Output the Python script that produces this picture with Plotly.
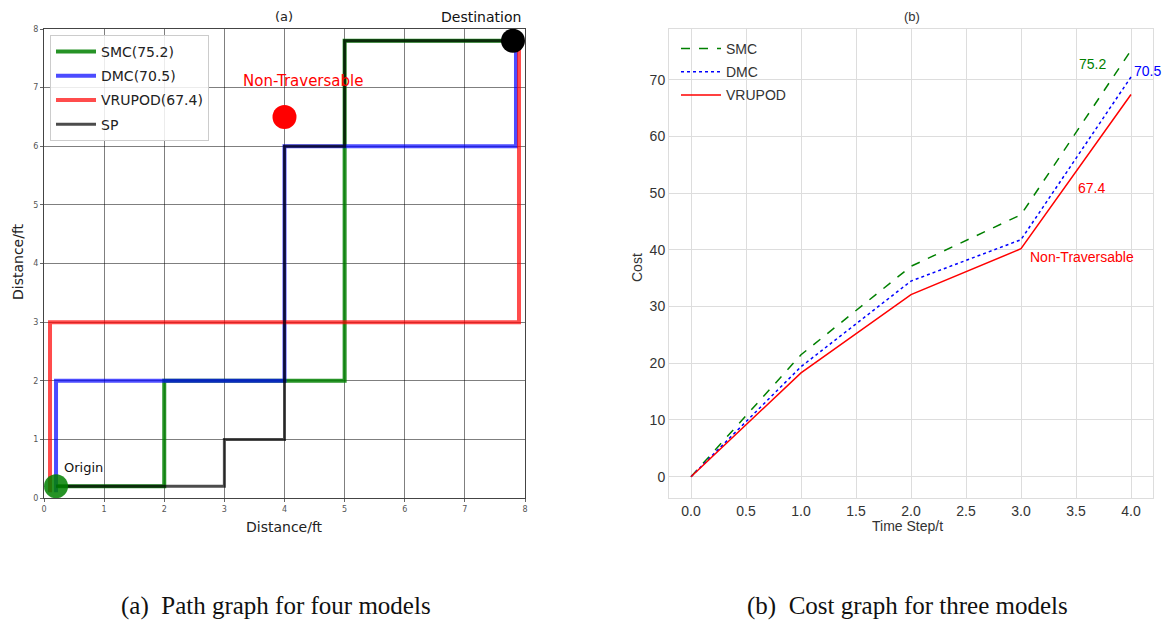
import plotly.graph_objects as go

# ---------------- Data: panel (a) paths ----------------
smc_x = [0.2, 2, 2, 5, 5, 7.8]
smc_y = [0.2, 0.2, 2, 2, 7.8, 7.8]
dmc_x = [0.2, 0.2, 4, 4, 7.85, 7.85]
dmc_y = [0.1, 2, 2, 6, 6, 7.85]
vru_x = [0.1, 0.1, 7.9, 7.9]
vru_y = [0.1, 3, 3, 7.95]
sp_x = [0.2, 3, 3, 4, 4, 5, 5, 7.8]
sp_y = [0.2, 0.2, 1, 1, 6, 6, 7.8, 7.8]
origin_pt = (0.2, 0.2)
dest_pt = (7.8, 7.8)
obstacle_pt = (4.0, 6.5)
path_names = ["SMC(75.2)", "DMC(70.5)", "VRUPOD(67.4)", "SP"]
path_ticks = [0, 1, 2, 3, 4, 5, 6, 7, 8]

# ---------------- Data: panel (b) costs ----------------
time_steps = [0, 1, 2, 3, 4]
smc_cost = [0, 21.5, 37.1, 46.2, 75.2]
dmc_cost = [0, 19.4, 34.5, 41.8, 70.5]
vru_cost = [0, 18.3, 32.1, 40.2, 67.4]
cost_names = ["SMC", "DMC", "VRUPOD"]

fig = go.Figure()

# ---- panel (a) traces ----
fig.add_trace(go.Scatter(x=smc_x, y=smc_y, mode="lines", name=path_names[0],
                         line=dict(color="rgba(0,128,0,0.85)", width=4),
                         xaxis="x", yaxis="y", legend="legend", legendgroup="a1"))
fig.add_trace(go.Scatter(x=dmc_x, y=dmc_y, mode="lines", name=path_names[1],
                         line=dict(color="rgba(0,0,255,0.7)", width=4),
                         xaxis="x", yaxis="y", legend="legend", legendgroup="a2"))
fig.add_trace(go.Scatter(x=vru_x, y=vru_y, mode="lines", name=path_names[2],
                         line=dict(color="rgba(255,0,0,0.7)", width=4),
                         xaxis="x", yaxis="y", legend="legend", legendgroup="a3"))
fig.add_trace(go.Scatter(x=sp_x, y=sp_y, mode="lines", name=path_names[3],
                         line=dict(color="rgba(0,0,0,0.7)", width=3),
                         xaxis="x", yaxis="y", legend="legend", legendgroup="a4"))
fig.add_trace(go.Scatter(x=[origin_pt[0]], y=[origin_pt[1]], mode="markers", showlegend=False,
                         marker=dict(color="rgba(0,128,0,0.85)", size=24),
                         xaxis="x", yaxis="y", cliponaxis=False))
fig.add_trace(go.Scatter(x=[dest_pt[0]], y=[dest_pt[1]], mode="markers", showlegend=False,
                         marker=dict(color="black", size=24),
                         xaxis="x", yaxis="y", cliponaxis=False))
fig.add_trace(go.Scatter(x=[obstacle_pt[0]], y=[obstacle_pt[1]], mode="markers", showlegend=False,
                         marker=dict(color="red", size=24),
                         xaxis="x", yaxis="y"))

# ---- panel (b) traces ----
fig.add_trace(go.Scatter(x=time_steps, y=smc_cost, mode="lines", name=cost_names[0],
                         line=dict(color="green", width=1.5, dash="dash"),
                         xaxis="x2", yaxis="y2", legend="legend2", legendgroup="b1"))
fig.add_trace(go.Scatter(x=time_steps, y=dmc_cost, mode="lines", name=cost_names[1],
                         line=dict(color="blue", width=1.5, dash="dot"),
                         xaxis="x2", yaxis="y2", legend="legend2", legendgroup="b2"))
fig.add_trace(go.Scatter(x=time_steps, y=vru_cost, mode="lines", name=cost_names[2],
                         line=dict(color="red", width=1.5),
                         xaxis="x2", yaxis="y2", legend="legend2", legendgroup="b3"))

W, H = 1166, 622
def px(x):
    return x / W
def py(y):
    return 1 - y / H

dj = "DejaVu Sans"
lib = "Liberation Sans"

fig.update_layout(
    width=W, height=H,
    margin=dict(l=0, r=0, t=0, b=0, autoexpand=False),
    paper_bgcolor="white", plot_bgcolor="white",
    xaxis=dict(domain=[px(44), px(525)], range=[0, 8], tickvals=path_ticks,
               showgrid=True, gridcolor="rgba(0,0,0,0.5)", gridwidth=1,
               showline=True, linecolor="#444", linewidth=1.2, mirror=True,
               ticks="outside", ticklen=3, tickcolor="#666",
               tickfont=dict(family=dj, size=8, color="#555"), zeroline=False,
               anchor="y"),
    yaxis=dict(domain=[py(498), py(29)], range=[0, 8], tickvals=path_ticks,
               showgrid=True, gridcolor="rgba(0,0,0,0.5)", gridwidth=1,
               showline=True, linecolor="#444", linewidth=1.2, mirror=True,
               ticks="outside", ticklen=3, tickcolor="#666",
               tickfont=dict(family=dj, size=8, color="#555"), zeroline=False,
               anchor="x"),
    xaxis2=dict(domain=[px(669), px(1153)], range=[-0.2, 4.2], dtick=0.5, tick0=0,
                tickformat=".1f",
                showgrid=True, gridcolor="#dddddd", gridwidth=1,
                showline=True, linecolor="#dddddd", linewidth=1, mirror=True,
                ticks="", tickfont=dict(family=lib, size=14, color="#333"),
                zeroline=False, anchor="y2"),
    yaxis2=dict(domain=[py(498), py(29)], range=[-3.76, 78.96], dtick=10, tick0=0,
                showgrid=True, gridcolor="#dddddd", gridwidth=1,
                showline=True, linecolor="#dddddd", linewidth=1, mirror=True,
                ticks="", tickfont=dict(family=lib, size=14, color="#333"),
                zeroline=False, anchor="x2"),
    legend=dict(x=px(50), y=py(35), xanchor="left", yanchor="top",
                bgcolor="rgba(255,255,255,0.85)", bordercolor="#cccccc", borderwidth=1,
                font=dict(family=dj, size=14, color="#222"), tracegroupgap=3,
                itemwidth=40),
    legend2=dict(x=px(676), y=py(33), xanchor="left", yanchor="top",
                 bgcolor="rgba(255,255,255,0)", borderwidth=0,
                 font=dict(family=lib, size=14, color="#333"), tracegroupgap=2,
                 itemwidth=40),
    showlegend=True,
)

def pa(text, x, y, size, color, family, angle=0):
    return dict(text=text, x=px(x), y=py(y), xref="paper", yref="paper",
                xanchor="center", yanchor="middle", textangle=angle,
                showarrow=False, font=dict(family=family, size=size, color=color))

def da(text, x, y, xr, yr, size, color, family, xanchor="center"):
    return dict(text=text, x=x, y=y, xref=xr, yref=yr, xanchor=xanchor, yanchor="middle",
                showarrow=False, font=dict(family=family, size=size, color=color))

ann = [
    pa("(a)", 284, 17, 13, "#222", dj),
    pa("Distance/ft", 284, 527, 14, "#222", dj),
    pa("Distance/ft", 18, 262, 14, "#222", dj, -90),
    pa("Destination", 481, 17, 14, "#111", dj),
    da("Origin", 0.3, 0.52, "x", "y", 13, "#111", dj, xanchor="left"),
    da("Non-Traversable", 4.3, 7.12, "x", "y", 15, "red", dj),
    pa("(b)", 912, 17, 13, "#333", lib),
    pa("Time Step/t", 907, 526, 14, "#333", lib),
    pa("Cost", 637, 268, 14, "#333", lib, -90),
    da("75.2", 3.65, 72.8, "x2", "y2", 14, "green", lib),
    da("70.5", 4.15, 71.6, "x2", "y2", 14, "blue", lib),
    da("67.4", 3.64, 50.9, "x2", "y2", 14, "red", lib),
    da("Non-Traversable", 3.55, 38.7, "x2", "y2", 14, "red", lib),
    pa("(a)  Path graph for four models", 276, 606, 25, "#111", "Liberation Serif"),
    pa("(b)  Cost graph for three models", 907, 606, 25, "#111", "Liberation Serif"),
]

fig.update_layout(annotations=ann)
fig.write_html("out.html", config={"displayModeBar": False},
               post_script="document.body.style.margin='0';document.body.style.padding='0';")
